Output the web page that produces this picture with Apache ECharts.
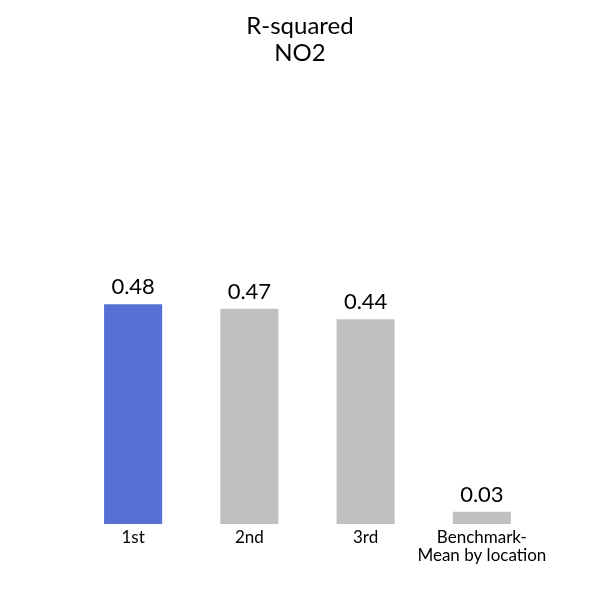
<!DOCTYPE html>
<html>
<head>
<meta charset="utf-8">
<script src="https://cdn.jsdelivr.net/npm/echarts@6/dist/echarts.min.js"></script>
<style>
  html, body { margin: 0; padding: 0; background: #fff; }
  #main { width: 600px; height: 600px; }
</style>
</head>
<body>
<div id="main"></div>
<script>
var categories = ['1st', '2nd', '3rd', 'Benchmark-\nMean by location'];
var values = [0.48, 0.47, 0.447, 0.027];
var valueLabels = ['0.48', '0.47', '0.44', '0.03'];
var barColors = ['#5670d6', '#c0c0c0', '#c0c0c0', '#c0c0c0'];

var barData = []
for (var i = 0; i < values.length; i++) {
    barData.push({
        value: values[i],
        itemStyle: { color: barColors[i] },
        label: { formatter: valueLabels[i] }
    })
}

var myChart = echarts.init(document.getElementById('main'));
var option = {
    backgroundColor: '#ffffff',
    textStyle: { fontFamily: 'Lato' },
    title: {
        text: 'R-squared\nNO2',
        left: 'center',
        top: 8,
        textStyle: {
            fontFamily: 'Lato',
            fontWeight: 'normal',
            fontSize: 24,
            lineHeight: 27,
            color: '#000'
        }
    },
    grid: {
        left: 75,
        right: 60,
        top: 66,
        bottom: 76
    },
    xAxis: {
        type: 'category',
        data: categories,
        axisLine: { show: false },
        axisTick: { show: false },
        axisLabel: {
            interval: 0,
            color: '#000',
            fontFamily: 'Lato',
            fontSize: 17,
            lineHeight: 18,
            margin: 5
        }
    },
    yAxis: {
        type: 'value',
        min: 0,
        max: 1,
        show: false
    },
    series: [
        {
            type: 'bar',
            barWidth: '50%',
            data: barData,
            label: {
                show: true,
                position: 'top',
                distance: 6,
                fontFamily: 'Lato',
                fontSize: 22,
                color: '#000'
            }
        }
    ]
};
myChart.setOption(option);
</script>
</body>
</html>
